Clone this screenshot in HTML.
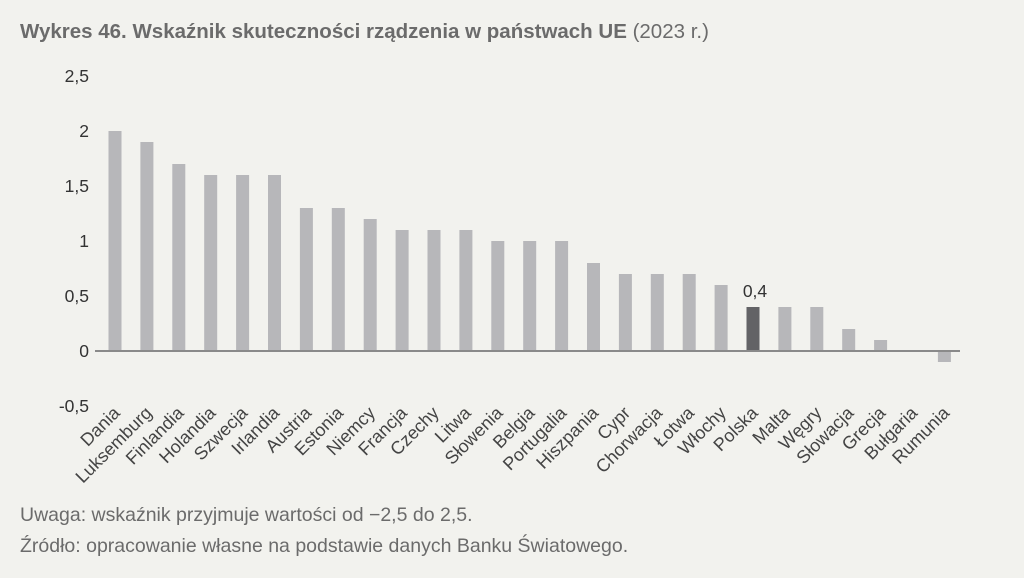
<!DOCTYPE html>
<html><head><meta charset="utf-8"><style>
body{margin:0;background:#f2f2ee;width:1024px;height:573px;overflow:hidden;font-family:"Liberation Sans",sans-serif}
</style></head><body>
<svg width="1024" height="573" xmlns="http://www.w3.org/2000/svg" font-family="Liberation Sans, sans-serif">
<rect width="1024" height="573" fill="#f2f2ee"/>
<text x="20" y="38" font-size="20.5" font-weight="bold" fill="#6b6b6b">Wykres 46. Wskaźnik skuteczności rządzenia w państwach UE <tspan font-weight="normal">(2023 r.)</tspan></text>
<g font-size="17.5" fill="#333" text-anchor="end">
<text x="89" y="82">2,5</text><text x="89" y="137">2</text><text x="89" y="192">1,5</text>
<text x="89" y="247">1</text><text x="89" y="302">0,5</text><text x="89" y="357">0</text><text x="89" y="412">-0,5</text>
</g>
<g fill="#b7b7ba">
<rect x="108.5" y="131" width="13" height="220"/>
<rect x="140.4" y="142" width="13" height="209"/>
<rect x="172.3" y="164" width="13" height="187"/>
<rect x="204.2" y="175" width="13" height="176"/>
<rect x="236.1" y="175" width="13" height="176"/>
<rect x="268" y="175" width="13" height="176"/>
<rect x="299.9" y="208" width="13" height="143"/>
<rect x="331.8" y="208" width="13" height="143"/>
<rect x="363.7" y="219" width="13" height="132"/>
<rect x="395.6" y="230" width="13" height="121"/>
<rect x="427.5" y="230" width="13" height="121"/>
<rect x="459.4" y="230" width="13" height="121"/>
<rect x="491.3" y="241" width="13" height="110"/>
<rect x="523.2" y="241" width="13" height="110"/>
<rect x="555.1" y="241" width="13" height="110"/>
<rect x="587" y="263" width="13" height="88"/>
<rect x="618.9" y="274" width="13" height="77"/>
<rect x="650.8" y="274" width="13" height="77"/>
<rect x="682.7" y="274" width="13" height="77"/>
<rect x="714.6" y="285" width="13" height="66"/>
<rect x="746.5" y="307" width="13" height="44" fill="#636366"/>
<rect x="778.4" y="307" width="13" height="44"/>
<rect x="810.3" y="307" width="13" height="44"/>
<rect x="842.2" y="329" width="13" height="22"/>
<rect x="874.1" y="340" width="13" height="11"/>
<rect x="937.9" y="351" width="13" height="11"/>
</g>
<line x1="95" y1="351" x2="960" y2="351" stroke="#8a8a8a" stroke-width="2"/>
<text x="755" y="297" font-size="17.5" fill="#333" text-anchor="middle">0,4</text>
<g font-size="18" fill="#444" text-anchor="end">
<text transform="translate(121,414) rotate(-45)">Dania</text>
<text transform="translate(152.9,414) rotate(-45)">Luksemburg</text>
<text transform="translate(184.8,414) rotate(-45)">Finlandia</text>
<text transform="translate(216.7,414) rotate(-45)">Holandia</text>
<text transform="translate(248.6,414) rotate(-45)">Szwecja</text>
<text transform="translate(280.5,414) rotate(-45)">Irlandia</text>
<text transform="translate(312.4,414) rotate(-45)">Austria</text>
<text transform="translate(344.3,414) rotate(-45)">Estonia</text>
<text transform="translate(376.2,414) rotate(-45)">Niemcy</text>
<text transform="translate(408.1,414) rotate(-45)">Francja</text>
<text transform="translate(440,414) rotate(-45)">Czechy</text>
<text transform="translate(471.9,414) rotate(-45)">Litwa</text>
<text transform="translate(503.8,414) rotate(-45)">Słowenia</text>
<text transform="translate(535.7,414) rotate(-45)">Belgia</text>
<text transform="translate(567.6,414) rotate(-45)">Portugalia</text>
<text transform="translate(599.5,414) rotate(-45)">Hiszpania</text>
<text transform="translate(631.4,414) rotate(-45)">Cypr</text>
<text transform="translate(663.3,414) rotate(-45)">Chorwacja</text>
<text transform="translate(695.2,414) rotate(-45)">Łotwa</text>
<text transform="translate(727.1,414) rotate(-45)">Włochy</text>
<text transform="translate(759,414) rotate(-45)">Polska</text>
<text transform="translate(790.9,414) rotate(-45)">Malta</text>
<text transform="translate(822.8,414) rotate(-45)">Węgry</text>
<text transform="translate(854.7,414) rotate(-45)">Słowacja</text>
<text transform="translate(886.6,414) rotate(-45)">Grecja</text>
<text transform="translate(918.5,414) rotate(-45)">Bułgaria</text>
<text transform="translate(950.4,414) rotate(-45)">Rumunia</text>
</g>
<text x="20" y="521" font-size="19.5" fill="#6b6b6b">Uwaga: wskaźnik przyjmuje wartości od −2,5 do 2,5.</text>
<text x="20" y="552" font-size="19.5" fill="#6b6b6b">Źródło: opracowanie własne na podstawie danych Banku Światowego.</text>
</svg>
</body></html>
